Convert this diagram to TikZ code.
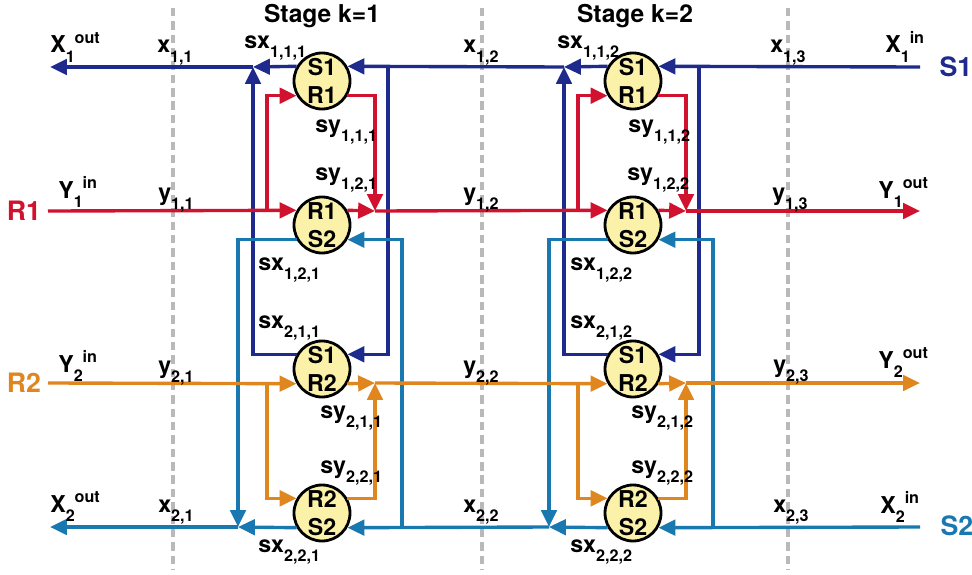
\documentclass[tikz,border=0pt]{standalone}
\usepackage{fontspec}
\setmainfont{TeX Gyre Heros}
\usepackage{tikz}
\usetikzlibrary{positioning,arrows.meta,calc,backgrounds}
\usepackage{xcolor}

\definecolor{sonecol}{HTML}{1E2B8C}
\definecolor{stwocol}{HTML}{1A78B0}
\definecolor{ronecol}{HTML}{D0122E}
\definecolor{rtwocol}{HTML}{E0861E}
\definecolor{cellfill}{HTML}{FBF1A8}

\newcommand{\subx}[1]{\raisebox{-6.5pt}{\fontsize{11.5}{11.5}\selectfont#1}}
\newcommand{\supx}[1]{\raisebox{6.5pt}{\fontsize{11.5}{11.5}\selectfont#1}}

\begin{document}
\begin{tikzpicture}[
    every node/.style={font=\bfseries\fontsize{16.5}{19}\selectfont,inner sep=0pt},
    cell/.style={circle,draw,line width=2pt,fill=cellfill,minimum size=1.4cm,
        inner sep=0pt,align=center,font=\bfseries\fontsize{16.5}{19.9}\selectfont},
    flow/.style={line width=2.4pt,-{Triangle[length=12pt,width=11pt]}},
    sone/.style={flow,draw=sonecol},
    stwo/.style={flow,draw=stwocol},
    rone/.style={flow,draw=ronecol},
    rtwo/.style={flow,draw=rtwocol},
    lbl/.style={anchor=base west},
    title/.style={anchor=base,font=\bfseries\fontsize{17.5}{20}\selectfont},
    side/.style={font=\bfseries\fontsize{19}{22}\selectfont},
    grid/.style={gray!55,line width=2.4pt,dash pattern=on 6pt off 3.5pt},
]
\useasboundingbox (0,0) rectangle (24.3,-14.375);

% Stage boundaries
\draw[grid] (4.325,-0.2) -- (4.325,-14.25);
\draw[grid] (12.05,-0.2) -- (12.05,-14.25);
\draw[grid] (19.7,-0.2)  -- (19.7,-14.25);

\node[title] (stage1) at (8.05,-0.575)  {Stage k=1};
\node[title] (stage2) at (15.875,-0.575) {Stage k=2};

% --- Stream ends
\coordinate (S1in)  at (23.0,-1.675);
\coordinate (S1out) at (1.25,-1.675);
\coordinate (R1in)  at (1.2,-5.275);
\coordinate (R1out) at (23.0,-5.275);
\coordinate (R2in)  at (1.2,-9.575);
\coordinate (R2out) at (23.0,-9.575);
\coordinate (S2in)  at (23.0,-13.175);
\coordinate (S2out) at (1.25,-13.175);

% --- Stage k=1: exchanger units
\node[cell] (S1R1-1) at (8.05,-2.025)  {S1\\R1};
\node[cell] (R1S2-1) at (8.05,-5.625)  {R1\\S2};
\node[cell] (S1R2-1) at (8.05,-9.225)  {S1\\R2};
\node[cell] (R2S2-1) at (8.05,-12.825) {R2\\S2};

% splitters and mixers
\coordinate (sxs1) at (9.7,-1.675);
\coordinate (sxj1) at (6.325,-1.675);
\coordinate (txs1) at (10.05,-13.175);
\coordinate (txj1) at (5.95,-13.175);
\coordinate (r1s1) at (6.675,-5.275);
\coordinate (r1j1) at (9.375,-5.275);
\coordinate (r2s1) at (6.675,-9.575);
\coordinate (r2j1) at (9.375,-9.575);

% --- Stage k=2: exchanger units
\node[cell] (S1R1-2) at (15.825,-2.025)  {S1\\R1};
\node[cell] (R1S2-2) at (15.825,-5.625)  {R1\\S2};
\node[cell] (S1R2-2) at (15.825,-9.225)  {S1\\R2};
\node[cell] (R2S2-2) at (15.825,-12.825) {R2\\S2};

% splitters and mixers
\coordinate (sxs2) at (17.475,-1.675);
\coordinate (sxj2) at (14.1,-1.675);
\coordinate (txs2) at (17.825,-13.175);
\coordinate (txj2) at (13.725,-13.175);
\coordinate (r1s2) at (14.45,-5.275);
\coordinate (r1j2) at (17.15,-5.275);
\coordinate (r2s2) at (14.45,-9.575);
\coordinate (r2j2) at (17.15,-9.575);

% --- Hot stream S1 (right to left)
\draw[sone] (S1in) -- (S1R1-2.30);
\draw[sone] (S1R1-2.150) -- (sxj2);
\draw[sone] (sxs2) |- (S1R2-2.30);
\draw[sone] (S1R2-2.150) -| (sxj2);
\draw[sone] (sxj2) -- (S1R1-1.30);
\draw[sone] (S1R1-1.150) -- (sxj1);
\draw[sone] (sxs1) |- (S1R2-1.30);
\draw[sone] (S1R2-1.150) -| (sxj1);
\draw[sone] (sxj1) -- (S1out);

% --- Hot stream S2 (right to left)
\draw[stwo] (S2in) -- (R2S2-2.330);
\draw[stwo] (R2S2-2.210) -- (txj2);
\draw[stwo] (txs2) |- (R1S2-2.330);
\draw[stwo] (R1S2-2.210) -| (txj2);
\draw[stwo] (txj2) -- (R2S2-1.330);
\draw[stwo] (R2S2-1.210) -- (txj1);
\draw[stwo] (txs1) |- (R1S2-1.330);
\draw[stwo] (R1S2-1.210) -| (txj1);
\draw[stwo] (txj1) -- (S2out);

% --- Cold stream R1 (left to right)
\draw[rone] (R1in) -- (R1S2-1.150);
\draw[rone] (r1s1) |- (S1R1-1.210);
\draw[rone] (R1S2-1.30) -- (r1j1);
\draw[rone] (S1R1-1.330) -| (r1j1);
\draw[rone] (r1j1) -- (R1S2-2.150);
\draw[rone] (r1s2) |- (S1R1-2.210);
\draw[rone] (R1S2-2.30) -- (r1j2);
\draw[rone] (S1R1-2.330) -| (r1j2);
\draw[rone] (r1j2) -- (R1out);

% --- Cold stream R2 (left to right)
\draw[rtwo] (R2in) -- (S1R2-1.210);
\draw[rtwo] (r2s1) |- (R2S2-1.150);
\draw[rtwo] (S1R2-1.330) -- (r2j1);
\draw[rtwo] (R2S2-1.30) -| (r2j1);
\draw[rtwo] (r2j1) -- (S1R2-2.210);
\draw[rtwo] (r2s2) |- (R2S2-2.150);
\draw[rtwo] (S1R2-2.330) -- (r2j2);
\draw[rtwo] (R2S2-2.30) -| (r2j2);
\draw[rtwo] (r2j2) -- (R2out);

% Stream names
\node[side,text=ronecol] (nR1) at (0.6,-5.275)   {R1};
\node[side,text=rtwocol] (nR2) at (0.6,-9.575)   {R2};
\node[side,text=sonecol] (nS1) at (23.9,-1.675)  {S1};
\node[side,text=stwocol] (nS2) at (23.925,-13.15) {S2};

% Stream labels, row S1
\node[lbl] (Xout1) at (1.25,-1.325)   {X\subx{1}\supx{out}};
\node[lbl] (x11)   at (3.925,-1.325)  {x\subx{1,1}};
\node[lbl] (x12)   at (11.575,-1.325) {x\subx{1,2}};
\node[lbl] (x13)   at (19.25,-1.325)  {x\subx{1,3}};
\node[lbl] (Xin1)  at (22.125,-1.325) {X\subx{1}\supx{in}};
\node[lbl] (sx111) at (6.1,-1.2)      {sx\subx{1,1,1}};
\node[lbl] (sx112) at (13.925,-1.2)   {sx\subx{1,1,2}};

% row R1
\node[lbl] (Yin1)  at (1.45,-4.95)    {Y\subx{1}\supx{in}};
\node[lbl] (y11)   at (3.95,-5.0)     {y\subx{1,1}};
\node[lbl] (y12)   at (11.575,-5.0)   {y\subx{1,2}};
\node[lbl] (y13)   at (19.3,-5.0)     {y\subx{1,3}};
\node[lbl] (Yout1) at (21.95,-4.95)   {Y\subx{1}\supx{out}};
\node[lbl] (sy111) at (7.875,-3.3)    {sy\subx{1,1,1}};
\node[lbl] (sy121) at (7.875,-4.5)    {sy\subx{1,2,1}};
\node[lbl] (sy112) at (15.7,-3.3)     {sy\subx{1,1,2}};
\node[lbl] (sy122) at (15.675,-4.5)   {sy\subx{1,2,2}};
\node[lbl] (sx121) at (6.45,-6.75)    {sx\subx{1,2,1}};
\node[lbl] (sx122) at (14.25,-6.75)   {sx\subx{1,2,2}};

% row R2
\node[lbl] (sx211) at (6.45,-8.2)     {sx\subx{2,1,1}};
\node[lbl] (sx212) at (14.25,-8.2)    {sx\subx{2,1,2}};
\node[lbl] (Yin2)  at (1.45,-9.3)     {Y\subx{2}\supx{in}};
\node[lbl] (y21)   at (3.95,-9.325)   {y\subx{2,1}};
\node[lbl] (y22)   at (11.575,-9.325) {y\subx{2,2}};
\node[lbl] (y23)   at (19.325,-9.3)   {y\subx{2,3}};
\node[lbl] (Yout2) at (21.95,-9.2)    {Y\subx{2}\supx{out}};
\node[lbl] (sy211) at (8.0,-10.45)    {sy\subx{2,1,1}};
\node[lbl] (sy221) at (8.0,-11.825)   {sy\subx{2,2,1}};
\node[lbl] (sy212) at (15.775,-10.45) {sy\subx{2,1,2}};
\node[lbl] (sy222) at (15.775,-11.825) {sy\subx{2,2,2}};

% row S2
\node[lbl] (Xout2) at (1.25,-12.8)    {X\subx{2}\supx{out}};
\node[lbl] (x21)   at (3.95,-12.8)    {x\subx{2,1}};
\node[lbl] (x22)   at (11.575,-12.8)  {x\subx{2,2}};
\node[lbl] (x23)   at (19.325,-12.8)  {x\subx{2,3}};
\node[lbl] (Xin2)  at (22.0,-12.825)  {X\subx{2}\supx{in}};
\node[lbl] (sx221) at (6.45,-13.8)    {sx\subx{2,2,1}};
\node[lbl] (sx222) at (14.25,-13.8)   {sx\subx{2,2,2}};
\end{tikzpicture}
\end{document}
